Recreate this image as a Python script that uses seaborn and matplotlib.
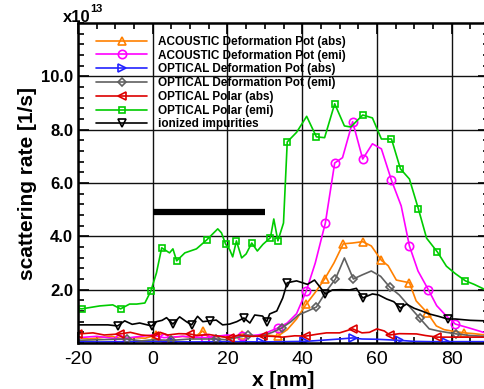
import matplotlib
matplotlib.use("Agg")
import matplotlib.pyplot as plt
import seaborn as sns
from matplotlib.ticker import MultipleLocator

# -----------------------------------------------------
# DATA  (x in nm, rates in units of 1e13 1/s)
# -----------------------------------------------------
ac_abs_x = [-20, -17, -14, -11, -8, -5, -2, 1, 3, 5, 8, 11, 13.4, 15, 18, 21, 24, 27, 30,
            33.5, 36, 38.5, 41.1, 43.5, 46, 48.5, 51, 53.5, 56.2, 58.5, 61.2, 63, 65.2,
            68.7, 70.5, 73.5, 75.9, 78, 80, 83.4, 86, 89]
ac_abs_y = [0.2, 0.15, 0.2, 0.25, 0.15, 0.2, 0.18, 0.3, 0.35, 0.2, 0.25, 0.2, 0.45, 0.2,
            0.25, 0.2, 0.3, 0.25, 0.3, 0.26, 0.5, 0.9, 1.46, 1.9, 2.4, 3.0, 3.72, 3.75,
            3.8, 3.64, 3.1, 2.9, 2.36, 2.26, 1.58, 1.13, 0.64, 0.5, 0.45, 0.38, 0.35, 0.3]
ac_abs_m = [1, 13.4, 24, 33.5, 41.1, 46, 51, 56.2, 61.2, 68.7, 73.5, 83.4]

ac_emi_x = [-20, -15, -9, -5, 0, 3, 8, 14, 20, 24, 28, 30, 31.5, 33.5, 36, 38.5, 41.1,
            43.5, 46.2, 48.7, 50.8, 53.5, 56.2, 58.8, 61.2, 63.9, 66.5, 68.7, 71, 73.8,
            76, 78.6, 81, 85, 89]
ac_emi_y = [0.2, 0.25, 0.15, 0.22, 0.3, 0.2, 0.25, 0.2, 0.3, 0.25, 0.3, 0.35, 0.45, 0.56,
            0.75, 1.1, 1.95, 3.0, 4.5, 6.75, 6.95, 8.3, 6.9, 7.47, 7.28, 6.1, 5.14, 3.64,
            2.7, 1.99, 1.4, 1.01, 0.71, 0.55, 0.38]
ac_emi_m = [-9, 3, 14, 24, 33.5, 41.1, 46.2, 48.7, 53.5, 56.2, 63.9, 68.7, 73.8, 81]

op_abs_x = [-19.7, -14, -7, 0, 5.4, 11, 17.4, 23, 29, 35, 40.6, 45, 50, 53.5, 56, 60, 63,
            66, 70, 74, 78.6, 84, 89]
op_abs_y = [0.05, 0.04, 0.05, 0.06, 0.05, 0.04, 0.05, 0.05, 0.04, 0.05, 0.06, 0.1, 0.15,
            0.19, 0.15, 0.14, 0.12, 0.1, 0.06, 0.05, 0.05, 0.05, 0.05]
op_abs_m = [-19.7, 5.4, 17.4, 29, 40.6, 53.5, 66, 78.6]

op_emi_x = [-20, -15, -7, -3, 0, 5, 10, 17, 20, 25.5, 28, 30, 32, 34.5, 37, 39, 41.5, 43.8,
            46.7, 48.9, 51.3, 53.7, 56, 58.5, 61, 63.4, 66, 68.5, 71.4, 74, 76.5, 78.6,
            81.3, 85, 89]
op_emi_y = [0.1, 0.12, 0.15, 0.08, 0.12, 0.1, 0.15, 0.15, 0.12, 0.3, 0.25, 0.3, 0.4, 0.56,
            0.8, 1.05, 1.2, 1.35, 1.99, 2.4, 3.19, 2.4, 2.55, 2.7, 2.5, 2.1, 1.8, 1.4,
            0.94, 0.53, 0.45, 0.4, 0.34, 0.28, 0.25]
op_emi_m = [-7, 5, 17, 25.5, 34.5, 43.8, 48.9, 53.7, 63.4, 71.4, 81.3]

pol_abs_x = [-20, -16, -13, -8.8, -6, -3, 0.5, 2, 4, 7, 9.9, 12, 15, 18, 20.6, 23, 26, 29.4,
             32, 34.7, 38, 41, 44, 46.5, 50, 53.5, 56, 58, 60, 62, 63.4, 66, 70.6, 73,
             76.2, 80, 84, 89]
pol_abs_y = [0.34, 0.38, 0.3, 0.34, 0.4, 0.3, 0.26, 0.4, 0.3, 0.35, 0.34, 0.28, 0.32, 0.25,
             0.19, 0.3, 0.25, 0.26, 0.25, 0.22, 0.27, 0.26, 0.33, 0.38, 0.38, 0.53, 0.38,
             0.4, 0.53, 0.45, 0.3, 0.35, 0.34, 0.28, 0.22, 0.22, 0.22, 0.22]
pol_abs_m = [-20, -8.8, 0.5, 9.9, 20.6, 29.4, 41, 53.5, 63.4, 76.2]

pol_emi_x = [-20, -19, -14.2, -10.7, -8.6, -6.2, -4.3, -2.1, -0.5, 1.0, 2.4, 4.5, 5.4, 6.4,
             8.6, 11.7, 14.4, 17.4, 18.4, 19.5, 20.6, 21.4, 22.4, 23.8, 25, 26.5, 28,
             29.5, 31.5, 32.4, 33.5, 35, 36, 38.5, 41.2, 43.8, 46, 48.7, 51.3, 53, 56.2,
             58.8, 61.2, 63.9, 66.3, 68.7, 71.1, 73.3, 76.2, 78.6, 81, 83.7, 86, 89]
pol_emi_y = [1.3, 1.28, 1.39, 1.43, 1.28, 1.46, 1.46, 1.5, 1.95, 2.63, 3.57, 3.38, 3.53,
             3.08, 3.38, 3.53, 3.86, 4.28, 4.13, 3.71, 3.5, 3.23, 3.83, 3.19, 3.34, 3.75,
             3.45, 3.7, 3.95, 4.65, 3.83, 4.5, 7.54, 7.9, 8.5, 7.73, 7.7, 8.97, 8.14, 8.1,
             8.55, 8.44, 7.65, 7.65, 6.53, 6.15, 5.03, 3.93, 3.41, 2.88, 2.6, 2.33, 2.2, 2.0]
pol_emi_m = [-19, -8.6, -0.5, 2.4, 6.4, 14.4, 19.5, 22.4, 26.5, 31.5, 33.5, 36, 43.8, 48.7,
             56.2, 63.9, 66.3, 71.1, 76.2, 83.7]

ion_x = [-20, -15, -12, -9.4, -7.5, -5.5, -3.5, -0.3, 1, 2.5, 3.7, 5.4, 7.2, 9, 10.4, 12,
         13.4, 15.2, 17, 18.7, 20.6, 22.5, 24.4, 26, 27.3, 29.4, 30.5, 31.3, 33.2, 34.8,
         36, 38.5, 41.4, 43.3, 46.2, 48.1, 50.5, 52.7, 54.5, 56.2, 58.8, 60.5, 62.6, 64.5,
         66.3, 67.9, 70, 72, 74, 76.5, 78.9, 81, 85, 89]
ion_y = [0.68, 0.68, 0.68, 0.64, 0.83, 0.7, 0.75, 0.64, 0.8, 0.85, 0.95, 0.71, 0.98, 0.8,
         0.68, 1.0, 0.8, 0.83, 0.86, 0.68, 0.71, 0.8, 0.94, 0.75, 1.05, 1.01, 0.8, 1.09,
         1.2, 1.69, 2.26, 2.33, 2.2, 2.36, 1.84, 1.99, 2.0, 1.99, 2.05, 1.69, 1.84, 1.8,
         1.65, 1.55, 1.31, 1.46, 1.3, 1.2, 1.09, 1.0, 0.9, 0.9, 0.85, 0.83]
ion_m = [-9.4, -0.3, 5.4, 10.4, 15.2, 24.4, 30.5, 36, 46.2, 56.2, 66.3, 78.9]

bar_x = [0, 30]
bar_y = [4.92, 4.92]

# -----------------------------------------------------
# SERIES: (label, x, y, marker positions, colour, marker)
# -----------------------------------------------------
series = [
    ("ACOUSTIC Deformation Pot (abs)", ac_abs_x, ac_abs_y, ac_abs_m, "#ff8000", "^"),
    ("ACOUSTIC Deformation Pot (emi)", ac_emi_x, ac_emi_y, ac_emi_m, "#ff00ff", "o"),
    ("OPTICAL Deformation Pot (abs)", op_abs_x, op_abs_y, op_abs_m, "#2222ff", ">"),
    ("OPTICAL Deformation Pot (emi)", op_emi_x, op_emi_y, op_emi_m, "#606060", "D"),
    ("OPTICAL Polar (abs)", pol_abs_x, pol_abs_y, pol_abs_m, "#dd0000", "<"),
    ("OPTICAL Polar (emi)", pol_emi_x, pol_emi_y, pol_emi_m, "#00cc00", "s"),
    ("ionized impurities", ion_x, ion_y, ion_m, "#000000", "v"),
]
marker_size = {"^": 5.5, "o": 6, ">": 5.5, "D": 4.5, "<": 5.5, "s": 5, "v": 5.5}

sns.set_style("ticks")
plt.rcParams["font.family"] = ["Liberation Sans", "DejaVu Sans"]
plt.rcParams["axes.unicode_minus"] = False
for key in ["text.color", "axes.labelcolor", "xtick.color", "ytick.color", "axes.edgecolor"]:
    plt.rcParams[key] = "black"

fig = plt.figure(figsize=(4.85, 3.89), dpi=100)
ax = fig.add_axes([78 / 485, 46 / 389, 411 / 485, 320 / 389])

for label, xs, ys, marks, color, mk in series:
    idx = [xs.index(v) for v in marks]
    sns.lineplot(x=xs, y=ys, ax=ax, color=color, lw=1.2, marker=mk, markevery=idx,
                 markersize=marker_size[mk], markerfacecolor="none",
                 markeredgecolor=color, markeredgewidth=1.2, label=label, sort=False)

ax.plot(bar_x, bar_y, color="black", lw=4.5, solid_capstyle="butt")

ax.set_xlim(-20, 90)
ax.set_ylim(0, 12)
ax.set_xticks([-20, 0, 20, 40, 60, 80])
ax.set_yticks([2, 4, 6, 8, 10])
ax.set_yticklabels(["2.0", "4.0", "6.0", "8.0", "10.0"], fontweight="bold")
ax.xaxis.set_minor_locator(MultipleLocator(5))
ax.yaxis.set_minor_locator(MultipleLocator(0.4))
ax.tick_params(which="both", direction="in", top=True, right=True, width=1.2)
ax.tick_params(which="major", length=8)
ax.tick_params(which="minor", length=4)
ax.tick_params(axis="x", labelsize=14, pad=6)
ax.tick_params(axis="y", labelsize=12)
ax.grid(True, which="major", color="#111111", lw=1)
for s in ax.spines.values():
    s.set_linewidth(1.8)

ax.set_xlabel("x [nm]", fontsize=15, fontweight="bold", labelpad=2)
ax.set_ylabel("scattering rate [1/s]", fontsize=15, fontweight="bold", labelpad=3)

fig.text(63 / 485, 1 - 22 / 389, "x10", fontsize=12, fontweight="bold")
fig.text(90 / 485, 1 - 12 / 389, "13", fontsize=8, fontweight="bold")

ax.legend(loc="upper left", bbox_to_anchor=(0.045, 0.96), frameon=False,
          prop={"weight": "bold", "size": 8.5}, handlelength=4.3,
          handletextpad=0.9, labelspacing=0.15, borderpad=0, borderaxespad=0,
          numpoints=1)

fig.savefig("out.png", dpi=100)
